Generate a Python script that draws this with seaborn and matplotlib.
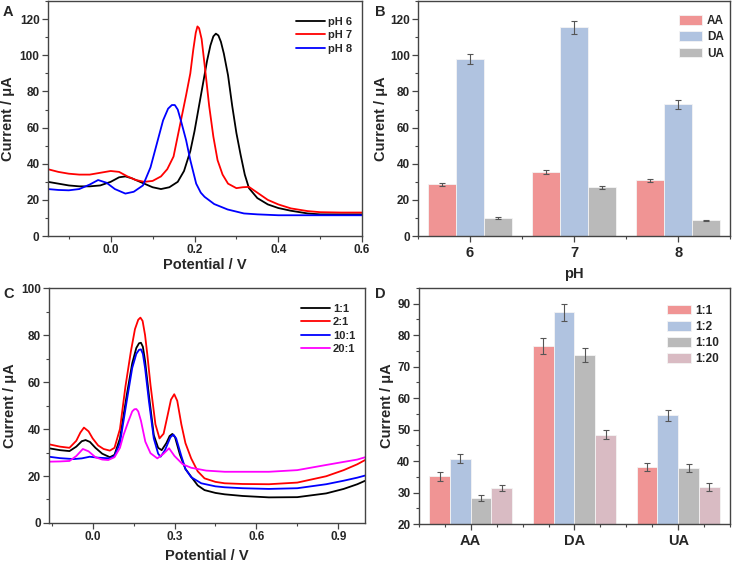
import matplotlib
matplotlib.use('Agg')
import matplotlib.pyplot as plt
import numpy as np
import pandas as pd
import seaborn as sns
from matplotlib.ticker import MultipleLocator

# ---- panel A: DPV curves at different pH ----
A_LABELS = ['pH 6', 'pH 7', 'pH 8']
A_X_PH6 = [-0.15, -0.125, -0.10, -0.075, -0.05, -0.025, 0.0, 0.02, 0.035, 0.05, 0.075, 0.10, 0.12, 0.14,
           0.16, 0.175, 0.19, 0.20, 0.21, 0.22, 0.23, 0.238, 0.245, 0.251, 0.257, 0.263, 0.27, 0.28, 0.29,
           0.30, 0.31, 0.32, 0.33, 0.35, 0.375, 0.40, 0.43, 0.47, 0.50, 0.55, 0.60]
A_Y_PH6 = [30, 29, 28, 27.5, 27.5, 28, 30, 32.5, 33, 32, 29.5, 27, 26, 27,
           30, 36, 47, 58, 71, 84, 97, 105.5, 110.5, 112, 111, 107.5, 101, 89, 72,
           57, 45, 34, 26.5, 21, 17.5, 15.5, 14, 12.5, 12, 12, 12]
A_X_PH7 = [-0.15, -0.125, -0.10, -0.075, -0.05, -0.025, 0.0, 0.02, 0.04, 0.06, 0.08, 0.10, 0.12, 0.135,
           0.15, 0.165, 0.18, 0.19, 0.197, 0.203, 0.207, 0.211, 0.217, 0.225, 0.235, 0.245, 0.255, 0.267,
           0.28, 0.30, 0.315, 0.33, 0.35, 0.375, 0.40, 0.43, 0.47, 0.50, 0.55, 0.60]
A_Y_PH7 = [37, 35.5, 34.5, 34, 34, 35, 36, 35.5, 33, 31, 30, 30.5, 33, 37,
           44, 61, 78, 90, 103, 112.5, 116, 115, 109, 93, 72, 55, 42, 34,
           29, 26.5, 27, 27.2, 24, 20, 17.5, 15.3, 13.8, 13.2, 13, 13]
A_X_PH8 = [-0.15, -0.125, -0.10, -0.075, -0.05, -0.03, -0.01, 0.01, 0.035, 0.055, 0.077, 0.095, 0.11,
           0.125, 0.137, 0.146, 0.153, 0.16, 0.168, 0.18, 0.19, 0.204, 0.215, 0.224, 0.247, 0.279, 0.318,
           0.35, 0.40, 0.50, 0.60]
A_Y_PH8 = [26, 25.5, 25.3, 26, 28.5, 31, 29.5, 26, 23.5, 24.5, 28, 38, 51,
           64, 70.5, 72.5, 72.5, 70, 63.5, 53, 42, 29, 24, 21.7, 17.7, 14.7, 12.5,
           12, 11.5, 11.5, 11.5]

# ---- panel B: peak currents vs pH ----
B_PH = ['6', '7', '8']
B_ANALYTES = ['AA', 'DA', 'UA']
B_AA = [28.7, 35.5, 30.9]
B_DA = [98, 115.5, 72.8]
B_UA = [10, 27, 8.7]
B_AA_ERR = [0.9, 1.3, 0.9]
B_DA_ERR = [3.0, 3.7, 2.4]
B_UA_ERR = [0.4, 0.9, 0.3]

# ---- panel C: DPV curves at different ratios ----
C_LABELS = ['1:1', '2:1', '10:1', '20:1']
C_X_11 = [-0.16, -0.12, -0.085, -0.06, -0.04, -0.026, -0.01, 0.01, 0.035, 0.063, 0.08, 0.10, 0.125,
          0.145, 0.16, 0.17, 0.177, 0.184, 0.192, 0.206, 0.224, 0.24, 0.253, 0.27, 0.282, 0.292, 0.302,
          0.32, 0.34, 0.361, 0.385, 0.41, 0.45, 0.484, 0.55, 0.646, 0.75, 0.856, 0.92, 0.97, 1.005]
C_Y_11 = [31.8, 31, 30.6, 32.5, 34.8, 35.3, 34.5, 32, 29.5, 28, 29, 36, 54.5,
          68, 74.5, 76.5, 76.7, 75, 69, 54.5, 37.4, 32, 31, 34, 37, 37.9, 36.5,
          29, 23, 19.7, 16, 14, 12.8, 12.2, 11.5, 10.9, 11, 12.6, 14.5, 16.5, 18.3]
C_X_21 = [-0.16, -0.12, -0.085, -0.06, -0.045, -0.032, -0.015, 0.0, 0.02, 0.04, 0.063, 0.08, 0.10,
          0.12, 0.14, 0.155, 0.167, 0.175, 0.183, 0.192, 0.20, 0.212, 0.23, 0.245, 0.26, 0.275, 0.287,
          0.299, 0.31, 0.325, 0.34, 0.361, 0.385, 0.41, 0.45, 0.484, 0.55, 0.646, 0.75, 0.856, 0.92,
          0.97, 1.005]
C_Y_21 = [33.5, 32.5, 32, 35, 38.5, 40.6, 39, 36, 33, 31.5, 30.8, 32, 40,
          58, 73, 82.5, 86.5, 87.4, 86, 80, 72, 58.7, 42, 36, 38, 46, 52.5,
          54.8, 52, 42, 34, 27.5, 22, 19, 17.5, 16.9, 16.6, 16.5, 17.2, 19.9, 22.5,
          25, 27.2]
C_X_101 = [-0.16, -0.12, -0.07, -0.04, -0.011, 0.02, 0.063, 0.08, 0.10, 0.125, 0.145, 0.16, 0.17,
           0.177, 0.184, 0.192, 0.206, 0.224, 0.24, 0.249, 0.265, 0.285, 0.296, 0.306, 0.325, 0.34,
           0.361, 0.398, 0.45, 0.484, 0.55, 0.646, 0.75, 0.856, 0.92, 0.97, 1.005]
C_Y_101 = [28.2, 27.6, 27.2, 27.5, 28.2, 27.8, 27.5, 28.5, 34, 52, 66, 72, 73.7,
           73.9, 72, 66, 52, 36, 29.5, 28.2, 31, 36.5, 37.6, 36, 28.5, 23,
           19.5, 16.9, 15.6, 15.2, 14.8, 14.5, 14.8, 16.5, 18, 19.3, 20.4]
C_X_201 = [-0.16, -0.12, -0.085, -0.06, -0.036, -0.015, 0.01, 0.035, 0.057, 0.08, 0.10, 0.113, 0.13,
           0.145, 0.153, 0.16, 0.167, 0.177, 0.193, 0.212, 0.237, 0.26, 0.28, 0.30, 0.33, 0.361,
           0.416, 0.484, 0.646, 0.75, 0.856, 0.92, 0.97, 1.005]
C_Y_201 = [26.1, 26.2, 26.4, 28.5, 31.5, 30.5, 28, 27, 26.8, 28, 32, 37.4, 43,
           47.5, 48.4, 48.5, 47.5, 43.5, 34.6, 29.7, 27.5, 29.5, 31.8, 28.5, 25, 23.5,
           22.3, 21.8, 21.8, 22.5, 24.7, 26, 27, 28.2]

# ---- panel D: peak currents vs ratio ----
D_ANALYTES = ['AA', 'DA', 'UA']
D_RATIOS = ['1:1', '1:2', '1:10', '1:20']
D_R11 = [35.1, 76.6, 38.1]
D_R12 = [40.7, 87.3, 54.5]
D_R110 = [28.2, 73.7, 37.9]
D_R120 = [31.4, 48.4, 31.8]
D_R11_ERR = [1.3, 2.5, 1.3]
D_R12_ERR = [1.4, 2.7, 1.8]
D_R110_ERR = [1.0, 2.2, 1.3]
D_R120_ERR = [1.0, 1.5, 1.2]

LINE_COLORS = ['#000000', '#ff0000', '#0000ff', '#ff00ff']
BAR_COLORS = ['#f09494', '#b0c3e0', '#bababa', '#d9bbc3']
FONT = ['Liberation Sans', 'DejaVu Sans']


def curves_df(labels, xs, ys):
    frames = [pd.DataFrame({'potential': x, 'current': y, 'series': lab}) for lab, x, y in zip(labels, xs, ys)]
    return pd.concat(frames, ignore_index=True)


def bars_df(cats, levels, values, errors):
    rows = []
    for lev, vals, errs in zip(levels, values, errors):
        for c, v, e in zip(cats, vals, errs):
            rows.append({'cat': c, 'level': lev, 'value': v, 'err': e})
    return pd.DataFrame(rows)


def style_axes(ax):
    for sp in ax.spines.values():
        sp.set_color('#444444')
        sp.set_linewidth(1.0)
    ax.tick_params(which='both', bottom=True, left=True, top=False, right=False)
    ax.tick_params(which='major', direction='out', length=4, width=0.9, color='#444444',
                   labelsize=8.5, pad=2)
    ax.tick_params(which='minor', direction='out', length=2.5, width=0.8, color='#444444')
    for lab in ax.get_xticklabels() + ax.get_yticklabels():
        lab.set_fontweight('bold')


def line_panel(ax, df, labels):
    sns.lineplot(ax=ax, data=df, x='potential', y='current', hue='series', hue_order=labels,
                 palette=LINE_COLORS[:len(labels)], linewidth=1.3, estimator=None, sort=False)
    sns.move_legend(ax, 'upper right', frameon=False, title=None,
                    handlelength=2.6, handletextpad=0.3, labelspacing=0.3,
                    bbox_to_anchor=(1.0, 0.975), prop={'weight': 'bold', 'size': 8})


def bar_panel(ax, df, cats, levels, anchor):
    sns.barplot(ax=ax, data=df, x='cat', y='value', hue='level', order=cats, hue_order=levels,
                palette=BAR_COLORS[:len(levels)], errorbar=None, width=0.8, saturation=1,
                edgecolor='#f4f4f4', linewidth=0.6)
    for cont, lev in zip(ax.containers, levels):
        sub = df[df['level'] == lev].set_index('cat').loc[cats]
        xs = [b.get_x() + b.get_width() / 2 for b in cont]
        ax.errorbar(xs, sub['value'].values, yerr=sub['err'].values, fmt='none', ecolor='#555555',
                    elinewidth=0.8, capsize=2.2, capthick=0.8)
    sns.move_legend(ax, 'upper right', frameon=False, title=None,
                    handlelength=2.0, handleheight=0.9, handletextpad=0.4, labelspacing=0.35,
                    bbox_to_anchor=anchor, prop={'weight': 'bold', 'size': 8.5})


def main():
    sns.set_theme(style='ticks')
    plt.rcParams['font.family'] = FONT
    plt.rcParams['font.weight'] = 'bold'
    plt.rcParams['axes.labelweight'] = 'bold'

    fig = plt.figure(figsize=(7.36, 5.62), dpi=100)
    ax_a = fig.add_axes([0.065, 0.580, 0.427, 0.418])
    ax_b = fig.add_axes([0.568, 0.580, 0.424, 0.418])
    ax_c = fig.add_axes([0.0666, 0.0694, 0.430, 0.4181])
    ax_d = fig.add_axes([0.569, 0.0676, 0.423, 0.4199])

    # A
    df_a = curves_df(A_LABELS, [A_X_PH6, A_X_PH7, A_X_PH8], [A_Y_PH6, A_Y_PH7, A_Y_PH8])
    line_panel(ax_a, df_a, A_LABELS)
    ax_a.yaxis.set_major_locator(MultipleLocator(20))
    ax_a.yaxis.set_minor_locator(MultipleLocator(10))
    ax_a.set_xticks([0.0, 0.2, 0.4, 0.6])
    ax_a.set_xticklabels(['0.0', '0.2', '0.4', '0.6'])
    ax_a.set_xticks([-0.1, 0.1, 0.3, 0.5], minor=True)
    ax_a.set_xlim(-0.15, 0.6)
    ax_a.set_ylim(0, 130)
    ax_a.set_xlabel('Potential / V', fontsize=10.5, labelpad=1)
    ax_a.set_ylabel('Current / μA', fontsize=10.5, labelpad=3)

    # B
    df_b = bars_df(B_PH, B_ANALYTES, [B_AA, B_DA, B_UA], [B_AA_ERR, B_DA_ERR, B_UA_ERR])
    bar_panel(ax_b, df_b, B_PH, B_ANALYTES, (1.015, 0.985))
    ax_b.set_xlim(-0.5, 2.5)
    ax_b.set_ylim(0, 130)
    ax_b.xaxis.set_minor_locator(MultipleLocator(0.5))
    ax_b.yaxis.set_major_locator(MultipleLocator(20))
    ax_b.yaxis.set_minor_locator(MultipleLocator(10))
    ax_b.set_xlabel('pH', fontsize=10.5, labelpad=5)
    ax_b.set_ylabel('Current / μA', fontsize=10.5, labelpad=1.5)

    # C
    df_c = curves_df(C_LABELS, [C_X_11, C_X_21, C_X_101, C_X_201], [C_Y_11, C_Y_21, C_Y_101, C_Y_201])
    line_panel(ax_c, df_c, C_LABELS)
    ax_c.yaxis.set_major_locator(MultipleLocator(20))
    ax_c.yaxis.set_minor_locator(MultipleLocator(10))
    ax_c.set_xticks([0.0, 0.3, 0.6, 0.9])
    ax_c.set_xticklabels(['0.0', '0.3', '0.6', '0.9'])
    ax_c.set_xticks([-0.15, 0.15, 0.45, 0.75], minor=True)
    ax_c.set_xlim(-0.16, 1.0)
    ax_c.set_ylim(0, 100)
    ax_c.set_xlabel('Potential / V', fontsize=10.5, labelpad=4)
    ax_c.set_ylabel('Current / μA', fontsize=10.5, labelpad=3)

    # D
    df_d = bars_df(D_ANALYTES, D_RATIOS, [D_R11, D_R12, D_R110, D_R120],
                   [D_R11_ERR, D_R12_ERR, D_R110_ERR, D_R120_ERR])
    bar_panel(ax_d, df_d, D_ANALYTES, D_RATIOS, (1.0, 0.975))
    ax_d.set_xlim(-0.5, 2.5)
    ax_d.set_ylim(20, 95)
    ax_d.xaxis.set_minor_locator(MultipleLocator(0.25))
    ax_d.yaxis.set_major_locator(MultipleLocator(10))
    ax_d.yaxis.set_minor_locator(MultipleLocator(5))
    ax_d.set_xlabel('')
    ax_d.set_ylabel('Current / μA', fontsize=10.5, labelpad=2.5)

    for ax in (ax_a, ax_b, ax_c, ax_d):
        style_axes(ax)
    for ax in (ax_b, ax_d):
        ax.tick_params(axis='x', which='major', labelsize=10.5, pad=3)

    for letter, (x, y) in zip('ABCD', [(0.004, 0.978), (0.510, 0.978), (0.004, 0.477), (0.510, 0.477)]):
        fig.text(x, y, letter, fontsize=10.5, fontweight='bold', ha='left', va='center')

    fig.savefig('out.png', dpi=100)


if __name__ == '__main__':
    main()
